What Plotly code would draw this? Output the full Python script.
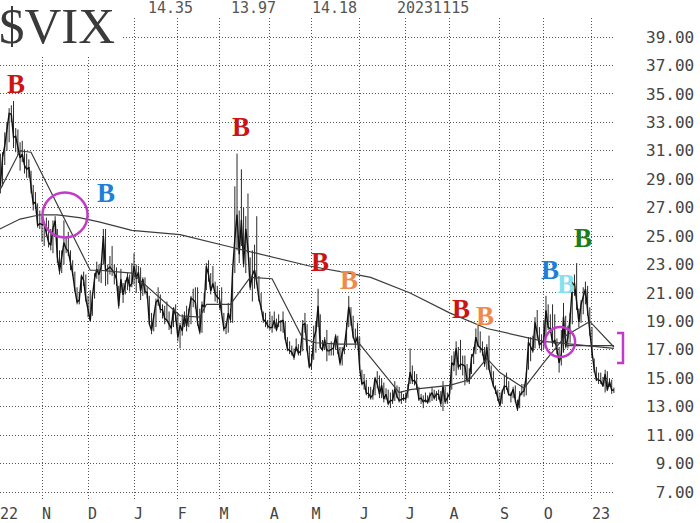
import pandas as pd
import plotly.graph_objects as go

# ---------------- trading calendar ----------------
holidays = ["2022-11-24", "2022-12-26", "2023-01-02", "2023-01-16", "2023-02-20",
            "2023-04-07", "2023-05-29", "2023-06-19", "2023-07-04", "2023-09-04"]
days = [d.strftime("%Y-%m-%d") for d in pd.bdate_range("2022-10-03", "2023-11-15")
        if d.strftime("%Y-%m-%d") not in holidays]
pos = {d: i for i, d in enumerate(days)}

# ---------------- daily $VIX data (one row per month) ----------------
close = [
    30.10, 29.07, 28.55, 30.52, 31.36, 32.45, 33.63, 33.57, 31.94, 32.02, 31.37, 30.50, 30.76, 29.98, 29.69, 29.85, 28.46, 27.28, 27.39, 25.75, 25.88,
    25.81, 25.86, 25.30, 24.55, 24.35, 25.54, 26.09, 23.53, 22.52, 23.73, 24.54, 24.11, 23.93, 23.12, 22.36, 21.21, 20.35, 20.50, 22.21, 21.89, 20.58,
    19.84, 19.06, 20.75, 22.02, 22.68, 22.29, 22.83, 25.00, 22.55, 22.67, 22.83, 22.62, 22.42, 21.97, 20.07, 21.97, 20.87, 21.65, 22.14, 21.44, 21.67,
    22.90, 22.01, 22.46, 21.13, 21.97, 21.09, 21.03, 18.83, 18.35, 19.36, 20.34, 20.52, 19.85, 19.81, 19.20, 19.08, 18.73, 18.51, 19.94, 19.40,
    17.87, 18.73, 18.33, 19.43, 18.66, 19.63, 20.63, 20.53, 20.34, 18.91, 18.23, 20.17, 20.02, 22.87, 22.29, 21.14, 21.67, 20.95, 20.70,
    20.58, 19.59, 18.49, 18.61, 19.59, 19.11, 22.61, 24.80, 26.52, 23.73, 26.14, 22.99, 25.51, 24.12, 21.38, 22.26, 22.61, 21.74, 20.60, 19.97, 19.12, 19.02, 18.70,
    18.55, 18.58, 19.08, 18.40, 18.97, 18.97, 19.09, 17.80, 17.07, 16.95, 16.83, 16.46, 17.22, 16.77, 16.89, 18.76, 18.84, 17.03, 15.78,
    16.08, 17.78, 18.34, 20.09, 17.19, 17.01, 17.71, 16.94, 16.93, 17.03, 17.12, 17.99, 16.87, 16.05, 16.81, 17.21, 18.53, 20.03, 19.14, 17.95, 17.46, 17.94,
    15.65, 14.60, 14.73, 13.96, 13.94, 13.65, 13.83, 15.01, 14.61, 13.88, 14.50, 13.54, 13.88, 13.20, 13.44, 13.44, 14.25, 13.74, 13.43, 13.54, 13.59,
    13.57, 14.18, 15.44, 14.83, 14.84, 14.56, 13.54, 13.61, 13.34, 13.48, 13.30, 13.76, 13.99, 13.60, 13.91, 13.86, 13.19, 14.41, 13.33, 13.63,
    13.93, 16.09, 15.92, 17.10, 15.77, 15.99, 15.96, 15.85, 14.84, 14.82, 16.46, 16.78, 17.89, 17.30, 17.13, 16.97, 15.98, 17.20, 15.68, 15.08, 14.45, 14.15, 13.57,
    13.09, 14.02, 14.45, 14.40, 13.84, 13.80, 14.23, 13.48, 12.82, 13.79, 14.00, 14.11, 15.14, 17.54, 17.20, 16.90, 18.94, 18.22, 17.34, 17.52,
    17.61, 19.78, 18.58, 18.49, 17.45, 17.70, 17.03, 16.09, 16.69, 19.32, 17.21, 17.88, 19.22, 21.40, 21.71, 20.37, 18.97, 20.19, 20.68, 21.27, 19.75, 18.14,
    16.87, 15.66, 14.91, 14.89, 14.81, 14.45, 15.29, 14.17, 14.76, 14.16, 14.18,
]
high = [
    31.6, 30.2, 30.8, 30.9, 32.3, 33.0, 34.0, 34.2, 34.5, 32.6, 32.5, 31.6, 31.7, 31.1, 30.8, 30.4, 29.6, 28.6, 28.1, 27.3, 26.8,
    26.4, 26.0, 26.3, 26.1, 25.5, 26.1, 26.4, 25.5, 24.0, 24.0, 26.1, 24.9, 25.3, 24.0, 23.3, 22.5, 21.4, 21.0, 22.3, 22.5, 22.3,
    20.8, 21.2, 21.0, 22.4, 23.2, 23.0, 23.1, 25.5, 25.5, 23.0, 23.6, 24.3, 23.0, 22.8, 21.5, 22.7, 21.7, 21.9, 22.4, 22.3, 23.1,
    23.8, 23.0, 22.9, 22.8, 22.1, 22.1, 21.4, 20.8, 19.6, 19.5, 20.6, 21.4, 20.9, 20.2, 20.1, 20.4, 19.7, 19.0, 20.0, 20.2,
    19.6, 18.9, 19.5, 19.7, 20.1, 19.9, 20.8, 21.3, 21.4, 21.4, 19.9, 20.4, 21.0, 23.1, 23.3, 22.4, 22.9, 21.8, 21.5,
    21.2, 21.4, 19.6, 18.9, 20.3, 19.9, 22.7, 28.5, 30.8, 26.8, 29.7, 27.0, 26.4, 28.0, 23.5, 24.0, 24.4, 26.4, 22.2, 21.0, 19.7, 19.6, 19.1,
    19.7, 19.4, 19.7, 19.2, 19.5, 19.1, 19.7, 19.0, 17.9, 17.6, 17.3, 17.1, 17.8, 17.4, 17.3, 19.1, 19.6, 18.8, 17.3,
    16.7, 18.7, 19.0, 21.3, 19.5, 17.7, 17.9, 18.4, 17.4, 17.6, 17.5, 18.1, 18.0, 17.2, 17.2, 17.4, 18.9, 20.8, 20.0, 19.4, 18.5, 18.9,
    17.9, 15.6, 15.3, 14.9, 14.4, 14.4, 14.2, 15.1, 15.5, 15.2, 15.0, 14.7, 14.3, 14.2, 14.0, 14.2, 14.8, 14.5, 14.4, 14.1, 13.9,
    14.0, 14.6, 17.1, 15.9, 15.5, 15.3, 14.4, 13.9, 13.8, 14.0, 13.8, 14.0, 14.4, 14.2, 14.1, 14.2, 14.1, 14.8, 14.4, 14.0,
    14.5, 16.6, 16.9, 17.6, 17.2, 17.7, 16.6, 16.6, 16.0, 15.7, 16.7, 17.2, 18.5, 18.8, 18.3, 17.6, 17.2, 17.4, 18.0, 15.9, 15.5, 14.5, 14.2,
    14.0, 14.2, 15.2, 15.4, 14.8, 14.0, 14.4, 14.5, 13.5, 14.1, 14.6, 14.6, 15.4, 17.9, 17.9, 18.0, 19.3, 19.8, 18.6, 18.1,
    19.1, 20.8, 20.2, 19.5, 20.2, 19.5, 17.8, 17.2, 18.4, 20.3, 19.4, 18.7, 19.6, 21.8, 22.3, 23.1, 19.9, 20.5, 21.4, 21.8, 21.5, 20.0,
    18.6, 16.4, 15.8, 15.4, 15.4, 15.1, 15.6, 15.5, 15.0, 14.9, 14.35,
]
low = [
    29.6, 28.3, 28.0, 28.5, 30.0, 31.0, 31.6, 33.0, 31.2, 30.9, 30.7, 29.6, 30.2, 29.4, 29.1, 29.1, 28.0, 26.8, 26.9, 25.6, 25.5,
    24.6, 24.3, 25.0, 24.2, 24.0, 23.8, 25.0, 23.1, 22.3, 22.4, 23.0, 23.8, 23.6, 22.6, 22.2, 21.1, 20.2, 20.2, 21.0, 21.5, 20.4,
    19.3, 19.0, 19.4, 20.6, 22.0, 21.8, 21.7, 23.0, 21.5, 21.6, 22.3, 22.2, 21.6, 21.5, 19.9, 21.0, 20.3, 20.9, 21.2, 21.1, 21.4,
    21.6, 21.0, 21.7, 20.5, 20.8, 20.9, 20.6, 18.8, 18.1, 18.3, 18.6, 20.1, 19.6, 19.2, 18.8, 19.0, 18.4, 18.1, 18.6, 19.0,
    17.6, 17.1, 18.0, 18.6, 18.3, 18.6, 18.8, 20.0, 19.9, 18.7, 18.1, 18.2, 19.6, 21.2, 21.8, 20.9, 21.4, 20.4, 20.3,
    19.9, 19.5, 18.3, 18.1, 18.2, 18.9, 18.9, 22.4, 24.0, 23.1, 24.3, 22.8, 22.4, 23.8, 21.2, 20.4, 21.3, 21.6, 20.4, 19.8, 18.9, 18.6, 18.5,
    18.4, 18.2, 18.5, 18.3, 18.6, 18.3, 18.2, 17.7, 16.9, 16.7, 16.6, 16.3, 16.9, 16.6, 16.6, 16.9, 18.2, 16.9, 15.7,
    15.6, 16.3, 16.8, 18.6, 17.1, 16.9, 17.0, 16.2, 16.6, 16.6, 16.6, 17.0, 16.7, 15.9, 15.9, 16.7, 17.2, 18.6, 18.7, 17.8, 17.1, 17.4,
    15.6, 14.5, 14.2, 13.8, 13.6, 13.5, 13.5, 13.8, 14.3, 13.6, 13.6, 13.3, 13.5, 13.1, 12.9, 13.2, 13.4, 13.6, 13.3, 13.2, 13.4,
    13.3, 13.6, 14.6, 14.6, 14.5, 14.2, 13.4, 13.2, 12.9, 13.3, 13.2, 13.3, 13.4, 13.5, 13.4, 13.5, 13.0, 12.7, 13.2, 13.2,
    13.5, 14.2, 15.5, 15.2, 15.6, 15.6, 15.2, 14.5, 14.7, 14.6, 15.3, 16.0, 16.7, 17.2, 16.8, 16.6, 15.8, 15.6, 15.6, 14.9, 14.4, 13.9, 13.4,
    13.0, 13.2, 13.9, 14.2, 13.8, 13.3, 13.6, 13.3, 12.7, 12.9, 13.8, 13.7, 13.8, 15.6, 16.2, 16.8, 17.1, 17.8, 17.1, 16.9,
    17.1, 17.9, 18.4, 18.2, 17.2, 17.4, 16.7, 15.4, 15.9, 16.8, 17.1, 17.1, 17.5, 18.8, 20.8, 19.8, 18.6, 18.9, 19.5, 20.2, 19.4, 18.0,
    16.5, 15.4, 14.8, 14.6, 14.6, 14.4, 14.0, 14.1, 14.4, 13.9, 13.97,
]

# moving averages as plotted (vertices)
ma20_dates = ["2022-10-04", "2022-10-18", "2022-10-25", "2022-12-02", "2022-12-08", "2022-12-30",
              "2023-02-02", "2023-02-15", "2023-02-21", "2023-03-08", "2023-03-21", "2023-04-04",
              "2023-04-25", "2023-05-03", "2023-05-18", "2023-06-01", "2023-06-28", "2023-07-06",
              "2023-08-01", "2023-08-14", "2023-08-24", "2023-09-01", "2023-09-19", "2023-10-02",
              "2023-10-16", "2023-10-31", "2023-11-15"]
ma20_vals = [28.0, 31.0, 30.9, 22.6, 22.6, 22.4,
             19.4, 19.3, 20.2, 20.2, 22.1, 22.0,
             17.8, 17.5, 17.4, 17.4, 14.0, 14.2,
             14.5, 14.9, 16.4, 15.4, 14.3, 16.1,
             18.0, 19.0, 17.2]
ma200_dates = ["2022-10-04", "2022-10-18", "2022-10-31", "2022-11-10", "2022-11-25", "2022-12-08",
               "2022-12-30", "2023-02-02", "2023-03-09", "2023-03-31", "2023-04-28", "2023-05-24",
               "2023-06-08", "2023-07-06", "2023-08-01", "2023-08-24", "2023-10-02", "2023-11-15"]
ma200_vals = [25.45, 26.2, 26.5, 26.5, 26.3, 26.0,
              25.4, 25.1, 24.2, 23.6, 22.9, 22.4,
              22.1, 21.0, 19.6, 18.5, 17.6, 17.1]

header_vals = ["14.35", "13.97", "14.18", "20231115"]
month_ticks = ["2022-11-01", "2022-12-01", "2023-01-03", "2023-02-01", "2023-03-01", "2023-04-03",
               "2023-05-01", "2023-06-01", "2023-07-03", "2023-08-01", "2023-09-01", "2023-10-02",
               "2023-11-01"]
month_labels = ["N", "D", "J", "F", "M", "A", "M", "J", "J", "A", "S", "O", "23"]
y_ticks = list(range(7, 40, 2))

b_marks = [("2022-10-14", 35.7, "#cc1414"), ("2022-12-13", 28.0, "#1f7fd6"),
           ("2023-03-15", 32.7, "#cc1414"), ("2023-05-05", 23.2, "#cc1414"),
           ("2023-05-24", 21.9, "#f08a4b"), ("2023-08-08", 19.9, "#cc1414"),
           ("2023-08-23", 19.4, "#f08a4b"), ("2023-10-05", 22.6, "#1f7fd6"),
           ("2023-10-16", 21.6, "#86e0f0"), ("2023-10-26", 24.9, "#1a7f1a")]

# ---------------- figure ----------------
n = min(len(days), len(close), len(high), len(low))
xi = list(range(n))

hx, hy = [], []
for i in range(n):
    hx += [i, i, None]
    hy += [low[i], high[i], None]

fig = go.Figure()
fig.add_trace(go.Scatter(x=hx, y=hy, mode="lines", line=dict(color="#2a2a2a", width=1),
                         hoverinfo="skip", showlegend=False))
fig.add_trace(go.Scatter(x=xi, y=close[:n], mode="lines", line=dict(color="#111111", width=1.4),
                         showlegend=False))
fig.add_trace(go.Scatter(x=[pos[d] for d in ma200_dates], y=ma200_vals, mode="lines",
                         line=dict(color="#3c3c3c", width=1.2), showlegend=False))
fig.add_trace(go.Scatter(x=[pos[d] for d in ma20_dates], y=ma20_vals, mode="lines",
                         line=dict(color="#3c3c3c", width=1.2), showlegend=False))

x_start, x_end = 1.83, 282.5
tickvals = [x_start + 0.05] + [pos[d] for d in month_ticks]
ticktext = ["22"] + [lab if len(lab) == 2 else lab + "\u00a0" for lab in month_labels]

mono = "DejaVu Sans Mono"
fig.update_xaxes(range=[x_start, x_end], tickvals=tickvals, ticktext=ticktext,
                 showgrid=True, gridcolor="#555555", griddash="1px,2px", gridwidth=1,
                 zeroline=False, showline=False, ticks="", ticklen=0, automargin=False,
                 tickfont=dict(family=mono, size=15, color="#444444"),
                 ticklabelshift=9, ticklabelstandoff=3, ticklabeloverflow="allow")
fig.update_yaxes(range=[6.44, 40.34], side="right", tickvals=y_ticks,
                 ticktext=[f"{v:5.2f}".replace(" ", "\u00a0") for v in y_ticks],
                 showgrid=True, gridcolor="#555555", griddash="1px,2px", gridwidth=1,
                 zeroline=False, showline=False, ticks="", ticklen=0, automargin=False,
                 tickfont=dict(family=mono, size=16, color="#444444"),
                 ticklabelstandoff=30)

# support line, circles, bracket
fig.add_shape(type="line", x0=pos["2023-10-16"], x1=pos["2023-11-15"], y0=17.3, y1=17.3,
              line=dict(color="#3c3c3c", width=1.2))
mag = "#c23ac8"
fig.add_shape(type="circle", x0=21.2, x1=41.8, y0=24.9, y1=28.07, line=dict(color=mag, width=2.5))
fig.add_shape(type="circle", x0=250.6, x1=264.3, y0=16.5, y1=18.6, line=dict(color=mag, width=2.5))
fig.add_shape(type="path", xref="paper", yref="paper",
              path="M 1.0033,0.3465 L 1.0130,0.3465 L 1.0130,0.2842 L 1.0033,0.2842",
              line=dict(color=mag, width=2.5))

for d, v, c in b_marks:
    fig.add_annotation(x=pos[d], y=v, text="<b>B</b>", showarrow=False,
                       font=dict(family="Liberation Serif", size=27, color=c),
                       xanchor="center", yanchor="middle")

fig.add_annotation(xref="paper", yref="paper", x=0, y=1.0373, xanchor="left", yanchor="top",
                   text="$VIX", showarrow=False, bgcolor="white", width=122, height=58,
                   align="left", valign="middle", borderpad=0, xshift=-2, yshift=4,
                   font=dict(family="Liberation Serif", size=51, color="#3a3a3a"))
for t, xp in zip(header_vals, [0.278, 0.4114, 0.5447, 0.704]):
    fig.add_annotation(xref="paper", yref="paper", x=xp, y=1.0207, xanchor="center",
                       yanchor="middle", text=t, showarrow=False,
                       font=dict(family=mono, size=15, color="#555555"))

fig.update_layout(width=700, height=523, margin=dict(l=0, r=85, t=18, b=23),
                  paper_bgcolor="white", plot_bgcolor="white", showlegend=False)
fig.write_html("out.html", config={"displayModeBar": False},
               post_script="document.body.style.margin='0px';")
